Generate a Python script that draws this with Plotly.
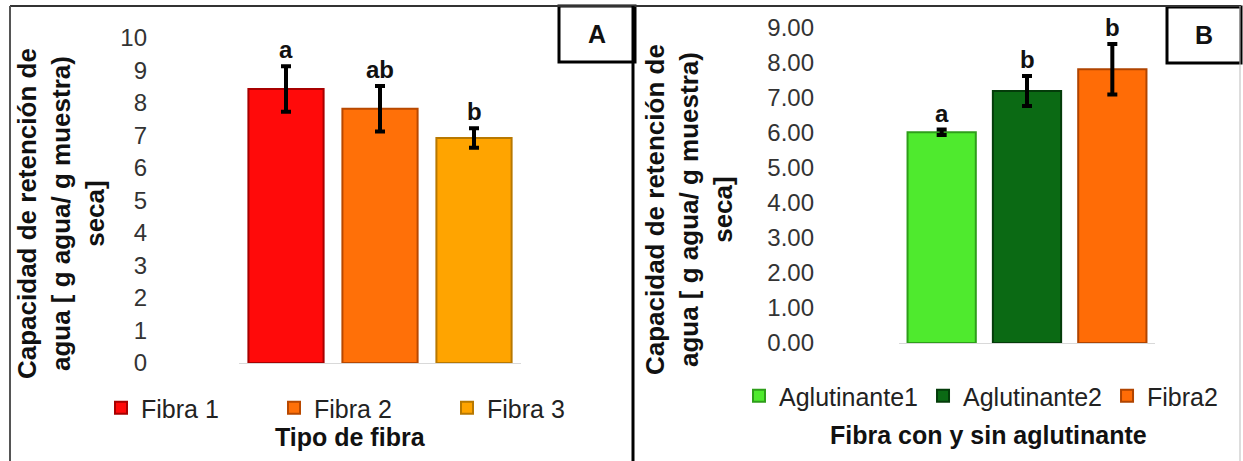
import plotly.graph_objects as go

W, H = 1243, 461

# Panel A: water retention capacity by fibre type
fibras = ["Fibra 1", "Fibra 2", "Fibra 3"]
fibras_media = [8.43, 7.82, 6.92]
fibras_de = [0.70, 0.70, 0.30]
fibras_letra = ["a", "ab", "b"]
fibras_color = ["#FF0A0A", "#FF7008", "#FFA400"]
fibras_borde = ["#A80000", "#B84800", "#B87800"]

# Panel B: fibre with and without binder
aglut = ["Aglutinante1", "Aglutinante2", "Fibra2"]
aglut_media = [6.02, 7.20, 7.82]
aglut_de = [0.08, 0.43, 0.72]
aglut_letra = ["a", "b", "b"]
aglut_color = ["#4FEA2E", "#0B6A14", "#FF6C06"]
aglut_borde = ["#2E9E1A", "#043C0A", "#B04400"]

ytitle = "Capacidad de retención de<br>agua [ g agua/ g muestra)<br>seca]"
FONT = "Liberation Sans, Arial, sans-serif"


def px(x):
    return x / W


def py(y):
    return 1 - y / H


fig = go.Figure()

for i, name in enumerate(fibras):
    fig.add_trace(go.Bar(
        x=[name], y=[fibras_media[i]], name=name,
        marker=dict(color=fibras_color[i], line=dict(color=fibras_borde[i], width=2)),
        error_y=dict(type="data", array=[fibras_de[i]], color="#000000", thickness=4, width=5),
        xaxis="x", yaxis="y", legend="legend",
    ))

for i, name in enumerate(aglut):
    fig.add_trace(go.Bar(
        x=[name], y=[aglut_media[i]], name=name,
        marker=dict(color=aglut_color[i], line=dict(color=aglut_borde[i], width=2)),
        error_y=dict(type="data", array=[aglut_de[i]], color="#000000", thickness=4, width=5),
        xaxis="x2", yaxis="y2", legend="legend2",
    ))

annotations = []
for cats, vals, errs, lets, xr, yr in [
    (fibras, fibras_media, fibras_de, fibras_letra, "x", "y"),
    (aglut, aglut_media, aglut_de, aglut_letra, "x2", "y2"),
]:
    for c, v, e, t in zip(cats, vals, errs, lets):
        annotations.append(dict(
            x=c, y=v + e, xref=xr, yref=yr, text=t, showarrow=False,
            yanchor="bottom", yshift=1,
            font=dict(family=FONT, size=24, color="#111111", weight="bold"),
        ))

# axis titles
for xc, yc, txt in [(px(61), py(214), ytitle), (px(689), py(210), ytitle)]:
    annotations.append(dict(
        x=xc, y=yc, xref="paper", yref="paper", text=txt, textangle=-90,
        showarrow=False, xanchor="center", yanchor="middle",
        font=dict(family=FONT, size=26, color="#111111", weight="bold"),
    ))
annotations.append(dict(
    x=px(350), y=py(437), xref="paper", yref="paper", text="Tipo de fibra",
    showarrow=False, xanchor="center", yanchor="middle",
    font=dict(family=FONT, size=25, color="#111111", weight="bold"),
))
annotations.append(dict(
    x=px(988), y=py(435), xref="paper", yref="paper", text="Fibra con y sin aglutinante",
    showarrow=False, xanchor="center", yanchor="middle",
    font=dict(family=FONT, size=25, color="#111111", weight="bold"),
))
# panel letters
for xc, yc, txt in [(px(597), py(34), "A"), (px(1204), py(35), "B")]:
    annotations.append(dict(
        x=xc, y=yc, xref="paper", yref="paper", text=txt, showarrow=False,
        xanchor="center", yanchor="middle",
        font=dict(family=FONT, size=25, color="#111111", weight="bold"),
    ))

shapes = [
    # outer frame
    dict(type="line", xref="paper", yref="paper", x0=px(10), x1=px(1241), y0=py(6), y1=py(6),
         line=dict(color="#333333", width=2)),
    dict(type="line", xref="paper", yref="paper", x0=px(10), x1=px(10), y0=py(6), y1=0,
         line=dict(color="#555555", width=2)),
    dict(type="line", xref="paper", yref="paper", x0=px(633), x1=px(633), y0=py(6), y1=0,
         line=dict(color="#000000", width=3)),
    dict(type="line", xref="paper", yref="paper", x0=px(1240), x1=px(1240), y0=py(6), y1=0,
         line=dict(color="#BBBBBB", width=1)),
    # panel label boxes
    dict(type="rect", xref="paper", yref="paper", x0=px(559), x1=px(635), y0=py(62), y1=py(6),
         line=dict(color="#000000", width=3), fillcolor="white", layer="below"),
    dict(type="rect", xref="paper", yref="paper", x0=px(1167), x1=px(1241), y0=py(63), y1=py(7),
         line=dict(color="#000000", width=3), fillcolor="white", layer="below"),
]

tickfont = dict(family=FONT, size=24, color="#333333")
legfont = dict(family=FONT, size=25, color="#222222")

fig.update_layout(
    width=W, height=H,
    margin=dict(l=0, r=0, t=0, b=0, autoexpand=False),
    paper_bgcolor="white", plot_bgcolor="rgba(0,0,0,0)",
    barmode="overlay", bargap=0.2,
    showlegend=True,
    xaxis=dict(domain=[px(239), px(521)], anchor="y", range=[-0.5, 2.5], automargin=False,
               showticklabels=False, showgrid=False, zeroline=False,
               showline=True, linecolor="#D9D9D9", linewidth=1),
    yaxis=dict(domain=[py(363), py(38)], anchor="free", position=px(147), range=[0, 10],
               automargin=False, tickvals=list(range(0, 11)), tickfont=tickfont,
               showgrid=False, zeroline=False, showline=False, ticks=""),
    xaxis2=dict(domain=[px(899), px(1155)], anchor="y2", range=[-0.5, 2.5], automargin=False,
                showticklabels=False, showgrid=False, zeroline=False,
                showline=True, linecolor="#D9D9D9", linewidth=1),
    yaxis2=dict(domain=[py(343), py(28)], anchor="free", position=px(814), range=[0, 9],
                automargin=False, tickvals=list(range(0, 10)), tickformat=".2f",
                tickfont=tickfont, showgrid=False, zeroline=False, showline=False, ticks=""),
    legend=dict(orientation="h", x=px(101), y=py(408), xanchor="left", yanchor="middle",
                font=legfont, bgcolor="rgba(0,0,0,0)",
                entrywidth=128, entrywidthmode="pixels", itemclick=False),
    legend2=dict(orientation="h", x=px(739), y=py(396), xanchor="left", yanchor="middle",
                 font=legfont, bgcolor="rgba(0,0,0,0)", itemclick=False),
    annotations=annotations,
    shapes=shapes,
)

fig.write_html("out.html")
